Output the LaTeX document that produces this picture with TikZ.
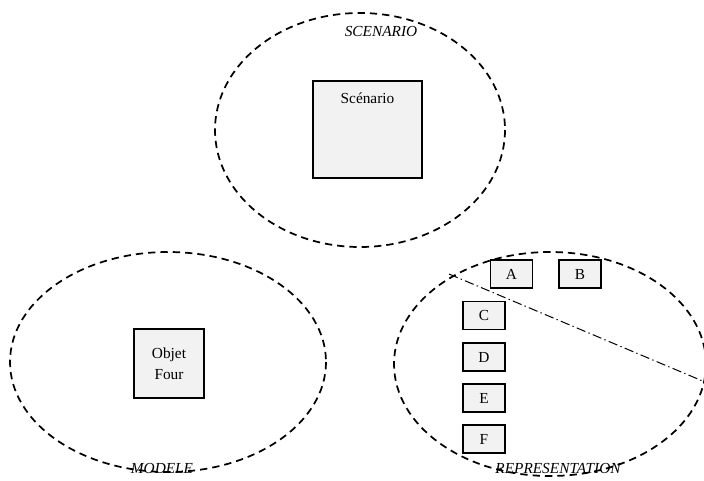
\documentclass[tikz,border=0pt]{standalone}
\usepackage{fontspec}
\setmainfont{Liberation Serif}

\tikzset{every picture/.style={line width=0.75pt}}
\tikzset{
  zone/.style={dash pattern=on 5.5pt off 3.75pt, line width=1.3pt},
  objbox/.style={draw, fill={rgb, 255:red, 242; green, 242; blue, 242}, line width=0.9pt, inner sep=0pt},
  letterbox/.style={objbox, minimum width=31.5pt, minimum height=21pt, font=\fontsize{11.5}{13}\selectfont},
  zonelabel/.style={inner sep=0.75pt, font=\fontsize{11.5}{13}\selectfont\itshape}
}

\begin{document}
\begin{tikzpicture}[x=0.75pt,y=0.75pt,yscale=-1,xscale=1]
\useasboundingbox (0,0) rectangle (704,480);

%Shape: Ellipse [scenario]
\draw  [zone] (360,130) ellipse (145 and 117) ;
%Shape: Ellipse [modele]
\draw  [zone] (168,362) ellipse (158 and 110) ;
%Shape: Ellipse [representation]
\draw  [zone] (550,364) ellipse (156 and 112) ;

%Straight Lines [separation]
\coordinate (sepA) at (449,274) ;
\coordinate (sepB) at (705,382) ;
\draw  [dash pattern=on 7pt off 2.5pt on 1pt off 2.5pt, line width=0.75pt] (sepA) -- (sepB) ;

%Shape: Square [scenario box]
\node [objbox, minimum width=81.75pt, minimum height=72.75pt] (scen) at (367.5,129.5) {} ;
\draw (scen.north) ++(0,18) node [inner sep=0.75pt, font=\fontsize{11.5}{13}\selectfont] (scentxt) {Scénario} ;

%Shape: Square [objet four]
\node [objbox, minimum width=52.5pt, minimum height=51.75pt, align=center, font=\fontsize{11.5}{16}\selectfont] (four) at (169,363.5) {Objet\\Four} ;

%Shape: Rectangles [representation items]
\node [letterbox] (A) at (511.5,274) {A} ;
\node [letterbox] (B) at (580,274) {B} ;
\node [letterbox] (C) at (484,315.5) {C} ;
\node [letterbox] (D) at (484,357) {D} ;
\node [letterbox] (E) at (484,398) {E} ;
\node [letterbox] (F) at (484,439) {F} ;

% Text Node
\draw (381,31) node [zonelabel] (lscen) {SCENARIO} ;
% Text Node
\draw (162,468) node [zonelabel] (lmod) {MODELE} ;
% Text Node
\draw (558,468) node [zonelabel] (lrep) {REPRESENTATION} ;

\end{tikzpicture}
\end{document}
